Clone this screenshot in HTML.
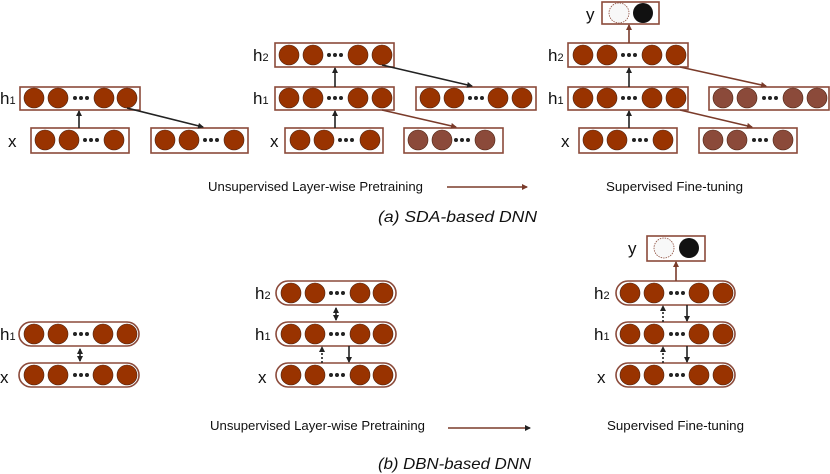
<!DOCTYPE html>
<html><head><meta charset="utf-8"><style>
html,body{margin:0;padding:0;background:#fff;}
svg{display:block;}
text{font-family:"Liberation Sans",sans-serif;fill:#111;}
</style></head><body>
<svg width="830" height="474" viewBox="0 0 830 474" xmlns="http://www.w3.org/2000/svg">
<defs>
<marker id="ah" markerWidth="6" markerHeight="6" refX="5" refY="3" orient="auto" markerUnits="userSpaceOnUse"><path d="M0,0 L6,3 L0,6z" fill="#222"/></marker>
<marker id="ahb" markerWidth="6" markerHeight="6" refX="5" refY="3" orient="auto" markerUnits="userSpaceOnUse"><path d="M0,0 L6,3 L0,6z" fill="#7a3b2a"/></marker>
<marker id="as" markerWidth="6" markerHeight="6" refX="1" refY="3" orient="auto" markerUnits="userSpaceOnUse"><path d="M6,0 L0,3 L6,6z" fill="#222"/></marker>
<g id="d"><circle cx="-6" cy="0" r="2" fill="#222"/><circle cx="0" cy="0" r="2" fill="#222"/><circle cx="6" cy="0" r="2" fill="#222"/></g>
</defs>
<g fill="#993300" stroke="#5a2a1a" stroke-width="0.6" stroke-dasharray="1.5 1">
</g>
<!-- ===== (a) ===== -->
<g fill="none" stroke="#8b4a3a" stroke-width="1.6">
<rect x="20" y="87" width="120" height="23"/>
<rect x="31" y="128" width="98" height="25"/>
<rect x="151" y="128" width="97" height="25"/>
<rect x="275" y="43" width="119" height="24"/>
<rect x="275" y="87" width="119" height="23"/>
<rect x="285" y="128" width="98" height="25"/>
<rect x="416" y="87" width="120" height="23"/>
<rect x="404" y="128" width="99" height="25"/>
<rect x="602" y="2" width="57" height="22"/>
<rect x="568" y="43" width="120" height="24"/>
<rect x="568" y="87" width="120" height="23"/>
<rect x="579" y="128" width="98" height="25"/>
<rect x="709" y="87" width="120" height="23"/>
<rect x="699" y="128" width="98" height="25"/>
</g>
<g fill="#993300" stroke="#4a2010" stroke-width="0.6">
<circle cx="34" cy="98" r="10"/><circle cx="58" cy="98" r="10"/><circle cx="104" cy="98" r="10"/><circle cx="127" cy="98" r="10"/>
<circle cx="45" cy="140" r="10"/><circle cx="69" cy="140" r="10"/><circle cx="114" cy="140" r="10"/>
<circle cx="165" cy="140" r="10"/><circle cx="189" cy="140" r="10"/><circle cx="234" cy="140" r="10"/>
<circle cx="289" cy="55" r="10"/><circle cx="313" cy="55" r="10"/><circle cx="358" cy="55" r="10"/><circle cx="382" cy="55" r="10"/>
<circle cx="289" cy="98" r="10"/><circle cx="313" cy="98" r="10"/><circle cx="358" cy="98" r="10"/><circle cx="382" cy="98" r="10"/>
<circle cx="300" cy="140" r="10"/><circle cx="324" cy="140" r="10"/><circle cx="370" cy="140" r="10"/>
<circle cx="430" cy="98" r="10"/><circle cx="454" cy="98" r="10"/><circle cx="498" cy="98" r="10"/><circle cx="522" cy="98" r="10"/>
<circle cx="583" cy="55" r="10"/><circle cx="607" cy="55" r="10"/><circle cx="652" cy="55" r="10"/><circle cx="676" cy="55" r="10"/>
<circle cx="583" cy="98" r="10"/><circle cx="607" cy="98" r="10"/><circle cx="652" cy="98" r="10"/><circle cx="676" cy="98" r="10"/>
<circle cx="593" cy="140" r="10"/><circle cx="617" cy="140" r="10"/><circle cx="663" cy="140" r="10"/>
</g>
<g fill="#8b4a3a" stroke="#4a2010" stroke-width="0.6">
<circle cx="418" cy="140" r="10"/><circle cx="442" cy="140" r="10"/><circle cx="485" cy="140" r="10"/>
<circle cx="723" cy="98" r="10"/><circle cx="747" cy="98" r="10"/><circle cx="793" cy="98" r="10"/><circle cx="817" cy="98" r="10"/>
<circle cx="713" cy="140" r="10"/><circle cx="737" cy="140" r="10"/><circle cx="783" cy="140" r="10"/>
</g>
<circle cx="619" cy="13" r="10" fill="#f8f8f8" stroke="#8b4a3a" stroke-width="0.8" stroke-dasharray="1.5 1"/>
<circle cx="643" cy="13" r="10" fill="#111"/>
<use href="#d" x="81" y="98"/><use href="#d" x="91" y="140"/><use href="#d" x="211" y="140"/>
<use href="#d" x="335" y="55"/><use href="#d" x="335" y="98"/><use href="#d" x="346" y="140"/>
<use href="#d" x="476" y="98"/><use href="#d" x="462" y="140"/>
<use href="#d" x="629" y="55"/><use href="#d" x="629" y="98"/><use href="#d" x="640" y="140"/>
<use href="#d" x="770" y="98"/><use href="#d" x="760" y="140"/>
<g stroke="#222" stroke-width="1.6" fill="none">
<line x1="79" y1="128" x2="79" y2="111" marker-end="url(#ah)"/>
<line x1="127" y1="108" x2="203" y2="127" marker-end="url(#ah)"/>
<line x1="335" y1="128" x2="335" y2="111" marker-end="url(#ah)"/>
<line x1="335" y1="87" x2="335" y2="68" marker-end="url(#ah)"/>
<line x1="382" y1="65" x2="472" y2="86" marker-end="url(#ah)"/>
<line x1="629" y1="128" x2="629" y2="111" marker-end="url(#ah)"/>
<line x1="629" y1="87" x2="629" y2="68" marker-end="url(#ah)"/>
</g>
<g stroke="#7a3b2a" stroke-width="1.6" fill="none">
<line x1="382" y1="110" x2="456" y2="127" marker-end="url(#ahb)"/>
<line x1="629" y1="43" x2="629" y2="25" marker-end="url(#ahb)"/>
<line x1="680" y1="67" x2="766" y2="86" marker-end="url(#ahb)"/>
<line x1="680" y1="110" x2="752" y2="127" marker-end="url(#ahb)"/>
<line x1="447" y1="187" x2="527" y2="187" marker-end="url(#ahb)"/>
<line x1="448" y1="428" x2="530" y2="428" marker-end="url(#ah)"/>
</g>
<g font-size="17">
<text x="0" y="104">h<tspan font-size="11">1</tspan></text>
<text x="8" y="147">x</text>
<text x="253" y="61">h<tspan font-size="11">2</tspan></text>
<text x="253" y="104">h<tspan font-size="11">1</tspan></text>
<text x="270" y="147">x</text>
<text x="586" y="20">y</text>
<text x="548" y="61">h<tspan font-size="11">2</tspan></text>
<text x="548" y="104">h<tspan font-size="11">1</tspan></text>
<text x="561" y="147">x</text>
</g>
<g font-size="13">
<text x="208" y="191" textLength="215" lengthAdjust="spacingAndGlyphs">Unsupervised Layer-wise Pretraining</text>
<text x="606" y="191" textLength="137" lengthAdjust="spacingAndGlyphs">Supervised Fine-tuning</text>
<text x="210" y="430" textLength="215" lengthAdjust="spacingAndGlyphs">Unsupervised Layer-wise Pretraining</text>
<text x="607" y="430" textLength="137" lengthAdjust="spacingAndGlyphs">Supervised Fine-tuning</text>
</g>
<g font-size="16" font-style="italic">
<text x="378" y="222" textLength="159" lengthAdjust="spacingAndGlyphs">(a) SDA-based DNN</text>
<text x="378" y="469" textLength="153" lengthAdjust="spacingAndGlyphs">(b) DBN-based DNN</text>
</g>
<!-- ===== (b) ===== -->
<g fill="none" stroke="#8b4a3a" stroke-width="1.6">
<rect x="19" y="322" width="120" height="24" rx="12"/>
<rect x="19" y="363" width="120" height="24" rx="12"/>
<rect x="276" y="281" width="120" height="24" rx="12"/>
<rect x="276" y="322" width="120" height="24" rx="12"/>
<rect x="276" y="363" width="120" height="24" rx="12"/>
<rect x="616" y="281" width="119" height="24" rx="12"/>
<rect x="616" y="322" width="119" height="24" rx="12"/>
<rect x="616" y="363" width="119" height="24" rx="12"/>
<rect x="647" y="236" width="58" height="25"/>
</g>
<g fill="#993300" stroke="#4a2010" stroke-width="0.6">
<circle cx="34" cy="334" r="10"/><circle cx="58" cy="334" r="10"/><circle cx="103" cy="334" r="10"/><circle cx="127" cy="334" r="10"/>
<circle cx="34" cy="375" r="10"/><circle cx="58" cy="375" r="10"/><circle cx="103" cy="375" r="10"/><circle cx="127" cy="375" r="10"/>
<circle cx="291" cy="293" r="10"/><circle cx="315" cy="293" r="10"/><circle cx="360" cy="293" r="10"/><circle cx="383" cy="293" r="10"/>
<circle cx="291" cy="334" r="10"/><circle cx="315" cy="334" r="10"/><circle cx="360" cy="334" r="10"/><circle cx="383" cy="334" r="10"/>
<circle cx="291" cy="375" r="10"/><circle cx="315" cy="375" r="10"/><circle cx="360" cy="375" r="10"/><circle cx="383" cy="375" r="10"/>
<circle cx="630" cy="293" r="10"/><circle cx="654" cy="293" r="10"/><circle cx="699" cy="293" r="10"/><circle cx="723" cy="293" r="10"/>
<circle cx="630" cy="334" r="10"/><circle cx="654" cy="334" r="10"/><circle cx="699" cy="334" r="10"/><circle cx="723" cy="334" r="10"/>
<circle cx="630" cy="375" r="10"/><circle cx="654" cy="375" r="10"/><circle cx="699" cy="375" r="10"/><circle cx="723" cy="375" r="10"/>
</g>
<circle cx="664" cy="248" r="10" fill="#f8f8f8" stroke="#8b4a3a" stroke-width="0.8" stroke-dasharray="1.5 1"/>
<circle cx="689" cy="248" r="10" fill="#111"/>
<use href="#d" x="81" y="334"/><use href="#d" x="81" y="375"/>
<use href="#d" x="337" y="293"/><use href="#d" x="337" y="334"/><use href="#d" x="337" y="375"/>
<use href="#d" x="677" y="293"/><use href="#d" x="677" y="334"/><use href="#d" x="677" y="375"/>
<g stroke="#222" stroke-width="1.6" fill="none">
<line x1="80" y1="349" x2="80" y2="361" marker-start="url(#as)" marker-end="url(#ah)"/>
<line x1="336" y1="308" x2="336" y2="320" marker-start="url(#as)" marker-end="url(#ah)"/>
<line x1="322" y1="363" x2="322" y2="347" stroke-dasharray="2 2" marker-end="url(#ah)"/>
<line x1="349" y1="346" x2="349" y2="362" marker-end="url(#ah)"/>
<line x1="663" y1="322" x2="663" y2="306" stroke-dasharray="2 2" marker-end="url(#ah)"/>
<line x1="663" y1="363" x2="663" y2="347" stroke-dasharray="2 2" marker-end="url(#ah)"/>
<line x1="687" y1="305" x2="687" y2="321" marker-end="url(#ah)"/>
<line x1="687" y1="346" x2="687" y2="362" marker-end="url(#ah)"/>
</g>
<line x1="676" y1="281" x2="676" y2="262" stroke="#7a3b2a" stroke-width="1.6" marker-end="url(#ahb)"/>
<g font-size="17">
<text x="0" y="340">h<tspan font-size="11">1</tspan></text>
<text x="0" y="383">x</text>
<text x="255" y="299">h<tspan font-size="11">2</tspan></text>
<text x="255" y="340">h<tspan font-size="11">1</tspan></text>
<text x="258" y="383">x</text>
<text x="628" y="254">y</text>
<text x="594" y="299">h<tspan font-size="11">2</tspan></text>
<text x="594" y="340">h<tspan font-size="11">1</tspan></text>
<text x="597" y="383">x</text>
</g>
</svg>
</body></html>
